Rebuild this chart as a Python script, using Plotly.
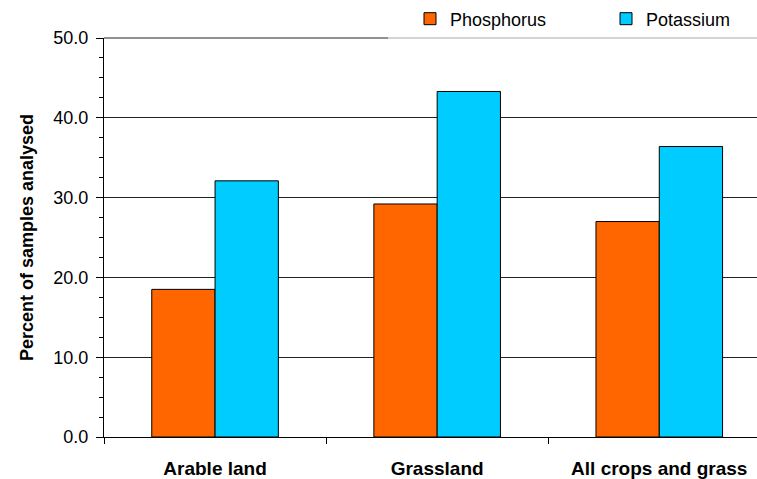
import plotly.graph_objects as go

categories = ["Arable land", "Grassland", "All crops and grass"]
phosphorus = [18.5, 29.2, 27.0]
potassium = [32.1, 43.3, 36.4]
y_ticks = [0, 10, 20, 30, 40, 50]
y_tick_labels = ["0.0", "10.0", "20.0", "30.0", "40.0", "50.0"]

FONT = "Arial, Liberation Sans, sans-serif"
L, T, B = 104, 38, 42
W, H = 757, 479
plot_h = H - T - B
legend_x0 = (388 - L) / (W - L)

fig = go.Figure()
fig.add_trace(go.Bar(name="Phosphorus", x=categories, y=phosphorus,
                     marker=dict(color="#FF6600", line=dict(color="#000000", width=1))))
fig.add_trace(go.Bar(name="Potassium", x=categories, y=potassium,
                     marker=dict(color="#00CCFF", line=dict(color="#000000", width=1))))

# top gridline at the axis maximum (dark part left of the legend box)
fig.add_shape(type="line", xref="paper", yref="paper", x0=0, x1=legend_x0, y0=1, y1=1,
              line=dict(color="#222222", width=1), layer="above")
# legend box bottom border (grey)
fig.add_shape(type="line", xref="paper", yref="paper", x0=legend_x0, x1=1.01, y0=1, y1=1,
              line=dict(color="#AAAAAA", width=1), layer="above")

fig.update_layout(
    width=W, height=H,
    margin=dict(l=L, r=0, t=T, b=B, autoexpand=False),
    paper_bgcolor="white", plot_bgcolor="white",
    barmode="group", bargap=0.43, bargroupgap=0,
    font=dict(family=FONT, color="#000000"),
    legend=dict(orientation="h", x=(410 - L) / (W - L), xanchor="left",
                y=1 + 19 / plot_h, yanchor="middle",
                bgcolor="rgba(0,0,0,0)", borderwidth=0,
                font=dict(size=18, family=FONT), entrywidth=151, entrywidthmode="pixels",
                traceorder="normal"),
    showlegend=True,
)
fig.update_xaxes(
    range=[-0.5, 2.44], showline=True, linecolor="#000000", linewidth=1,
    ticks="outside", tickson="boundaries", ticklen=6, tickcolor="#000000",
    tickfont=dict(size=19, family=FONT),
    ticklabelstandoff=14, showgrid=False,
    tickvals=categories, ticktext=["<b>%s</b>" % c for c in categories],
)
fig.update_yaxes(
    range=[0, 50], tickvals=y_ticks, ticktext=y_tick_labels,
    showline=True, linecolor="#000000", linewidth=1,
    ticks="outside", ticklen=7, tickcolor="#000000",
    minor=dict(dtick=2.5, ticks="outside", ticklen=4, tickcolor="#000000", showgrid=False),
    showgrid=True, gridcolor="#222222", gridwidth=1,
    tickfont=dict(size=18, family=FONT), ticklabelstandoff=4,
    title=dict(text="<b>Percent of samples analysed</b>", font=dict(size=18, family=FONT), standoff=15),
    zeroline=False,
)
fig.write_html("out.html", config={"displayModeBar": False},
               post_script="document.body.style.margin='0';document.body.style.overflow='hidden';")
